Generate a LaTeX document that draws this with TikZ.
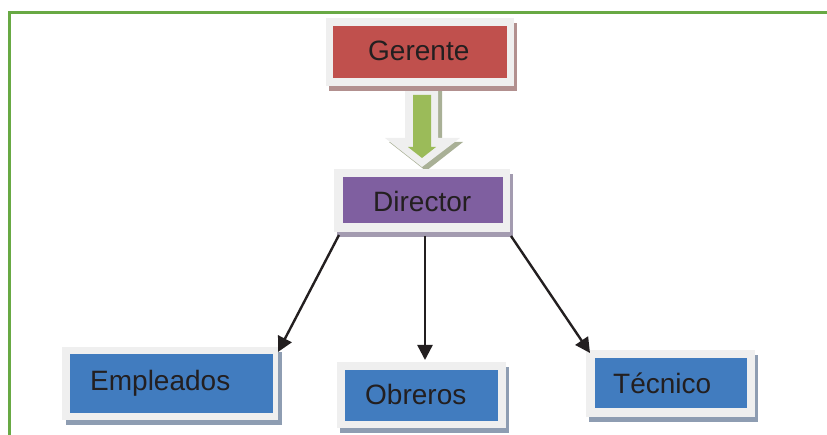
\documentclass[tikz,border=0pt]{standalone}
\usepackage{fontspec}
\setmainfont{Liberation Sans}
\usetikzlibrary{arrows.meta,shadows}
\definecolor{bordergreen}{HTML}{68A944}
\definecolor{framegray}{HTML}{EFEFEF}
\definecolor{redfill}{HTML}{C0504D}
\definecolor{purplefill}{HTML}{7F5FA0}
\definecolor{bluefill}{HTML}{417CBF}
\definecolor{greenfill}{HTML}{9BBB59}
\definecolor{redshadow}{HTML}{B2908F}
\definecolor{purpleshadow}{HTML}{A39BB0}
\definecolor{blueshadow}{HTML}{8E9DB2}
\definecolor{arrowshadow}{HTML}{A9B096}
\definecolor{ink}{HTML}{231F20}
\tikzset{
  framebox/.style={fill=framegray, inner sep=0, outer sep=0},
  innerbox/.style={inner sep=0, outer sep=0},
  label text/.style={font=\fontsize{28}{30}\selectfont, text=ink, anchor=base west, inner sep=0},
  conn/.style={draw=ink, line width=2.4pt, -{Triangle[length=15pt,width=15pt]}}
}
\begin{document}
\begin{tikzpicture}[x=1pt,y=-1pt]
\useasboundingbox (0,0) rectangle (827,435);
% page border
\draw[bordergreen, line width=3pt] (827,12.5) -- (9.5,12.5) -- (9.5,435);

% block arrow Gerente -> Director
\fill[arrowshadow] (409,90) -- (442,90) -- (442,142) -- (463,142) -- (426,171) -- (389,142) -- (409,142) -- cycle;
\fill[framegray] (405,86) -- (438,86) -- (438,138) -- (460,138) -- (422,167) -- (385,138) -- (405,138) -- cycle;
\fill[greenfill] (413,95) -- (431,95) -- (431,147) -- (436,147) -- (422,158) -- (408,147) -- (413,147) -- cycle;

% Gerente
\node[framebox, drop shadow={shadow xshift=3pt, shadow yshift=-5pt, fill=redshadow, opacity=1},
      minimum width=188pt, minimum height=68pt] (gf) at (420,52) {};
\node[innerbox, fill=redfill, minimum width=174pt, minimum height=52pt] (g) at (420,52) {};
\node[label text] (gt) at (368,61) {Gerente};

% Director
\node[framebox, drop shadow={shadow xshift=3pt, shadow yshift=-5pt, fill=purpleshadow, opacity=1},
      minimum width=176pt, minimum height=63pt] (df) at (422,200.5) {};
\node[innerbox, fill=purplefill, minimum width=160pt, minimum height=46pt] (d) at (423,200) {};
\node[label text] (dt) at (373,212) {Director};

% Empleados
\node[framebox, drop shadow={shadow xshift=4pt, shadow yshift=-5pt, fill=blueshadow, opacity=1},
      minimum width=216pt, minimum height=73pt] (ef) at (170,383.5) {};
\node[innerbox, fill=bluefill, minimum width=203pt, minimum height=59pt] (e) at (171.5,383.5) {};
\node[label text] (et) at (90,390) {Empleados};

% Obreros
\node[framebox, drop shadow={shadow xshift=3pt, shadow yshift=-5pt, fill=blueshadow, opacity=1},
      minimum width=169pt, minimum height=66pt] (of) at (421.5,395) {};
\node[innerbox, fill=bluefill, minimum width=153pt, minimum height=51pt] (o) at (421.5,395.5) {};
\node[label text] (ot) at (365,404) {Obreros};

% Tecnico
\node[framebox, drop shadow={shadow xshift=3pt, shadow yshift=-5pt, fill=blueshadow, opacity=1},
      minimum width=169pt, minimum height=67pt] (tf) at (670.5,383.5) {};
\node[innerbox, fill=bluefill, minimum width=152pt, minimum height=50pt] (t) at (671,383) {};
\node[label text] (tt) at (613,393) {Técnico};

% connectors
\draw[conn] ([xshift=5pt,yshift=-3pt]df.south west) -- ([yshift=-5pt]ef.north east);
\draw[conn] ([xshift=3pt,yshift=-4pt]df.south) -- ([xshift=3.5pt,yshift=2pt]of.north);
\draw[conn] ([xshift=1pt,yshift=-4pt]df.south east) -- ([xshift=4pt,yshift=-3pt]tf.north west);
\end{tikzpicture}
\end{document}
